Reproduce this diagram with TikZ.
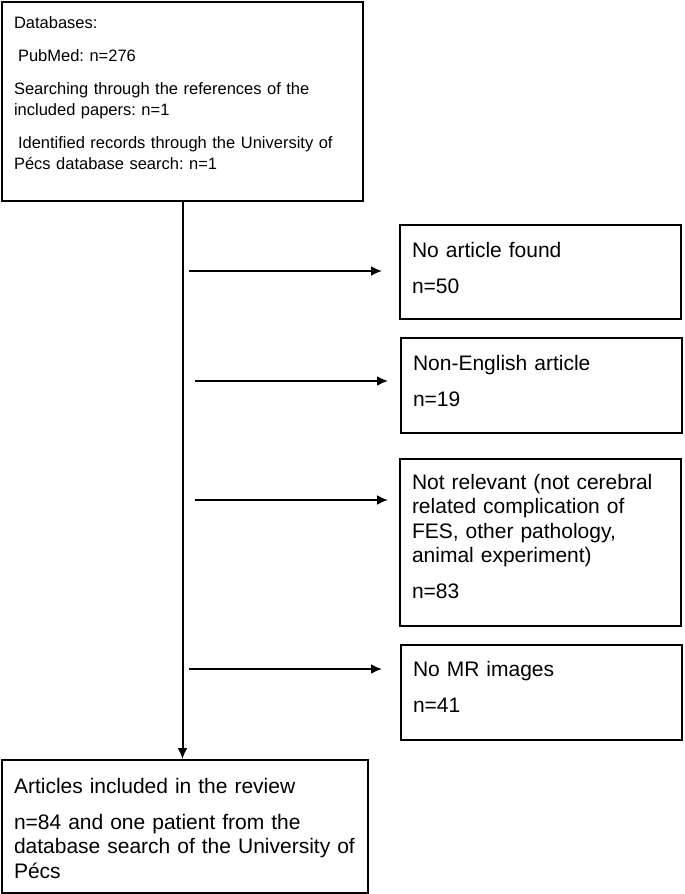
\documentclass[tikz,border=0pt]{standalone}
\usepackage{fontspec}
\setmainfont{Liberation Sans}
\usetikzlibrary{arrows.meta}
\tikzset{>={Latex[length=11pt,width=10pt]}}
\frenchspacing

\begin{document}
\begin{tikzpicture}[x = 1pt, y = -1pt, line width = 2pt,
  box/.style = {draw, anchor = north west, align = left, inner xsep = 12pt, inner ysep = 0pt, text height = 32pt},
  big/.style = {font = \fontsize{21}{24.5}\selectfont},
  small/.style = {font = \fontsize{16.5}{21}\selectfont}]
\useasboundingbox (0,0) rectangle (685,894);
\node[box, small, text width = 337pt, text height = 26pt, text depth = 173pt] (db) at (1,1) {Databases:\\[12pt]
  \hspace{4pt}PubMed: n=276\\[12pt]
  Searching through the references of the\\ included papers: n=1\\[12pt]
  \hspace{4pt}Identified records through the University of\\ Pécs database search: n=1};
\node[box, big, text width = 257pt, text depth = 62pt] (b1) at (399,224) {No article found\\[11.5pt] n=50};
\node[box, big, text width = 257pt, text depth = 63pt] (b2) at (400,337) {Non-English article\\[11.5pt] n=19};
\node[box, big, text width = 257pt, text height = 30pt, text depth = 137pt] (b3) at (399,458) {Not relevant (not cerebral\\ related complication of\\ FES, other pathology,\\ animal experiment)\\[11.5pt] n=83};
\node[box, big, text width = 257pt, text height = 31pt, text depth = 64pt] (b4) at (400,644) {No MR images\\[11.5pt] n=41};
\node[box, big, text width = 342pt, text height = 33pt, text depth = 100pt] (res) at (1,759) {Articles included in the review\\[11.5pt] n=84 and one patient from the\\ database search of the University of\\ Pécs};
% main flow
\draw[->] (db.south) -- (db.south |- res.north);
% exclusions
\coordinate (s1) at (189,271);
\coordinate (s2) at (195,381);
\coordinate (s3) at (195,500);
\coordinate (s4) at (189,669);
\draw[->, shorten >= 17pt] (s1) -- (s1 -| b1.west);
\draw[->, shorten >= 12pt] (s2) -- (s2 -| b2.west);
\draw[->, shorten >= 11pt] (s3) -- (s3 -| b3.west);
\draw[->, shorten >= 18pt] (s4) -- (s4 -| b4.west);
\end{tikzpicture}
\end{document}
